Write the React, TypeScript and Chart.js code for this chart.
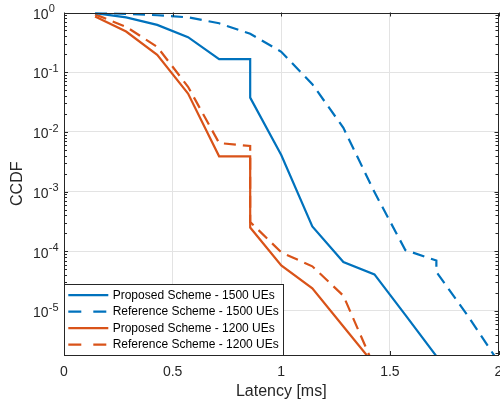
import React, { useEffect, useRef } from 'react';
import { Chart, registerables } from 'chart.js';

Chart.register(...registerables);

// ---------------- data ----------------
const seriesLabels = [
  'Proposed Scheme - 1500 UEs',
  'Reference Scheme - 1500 UEs',
  'Proposed Scheme - 1200 UEs',
  'Reference Scheme - 1200 UEs',
];

const proposed1500X = [0.143, 0.286, 0.429, 0.571, 0.714, 0.857, 0.857, 1.0, 1.143, 1.286, 1.429, 1.571, 1.714];
const proposed1500Y = [0.977, 0.83, 0.62, 0.386, 0.166, 0.166, 0.0375, 0.0041, 2.6e-4, 6.6e-5, 4.1e-5, 8.6e-6, 1.75e-6];

const reference1500X = [0.143, 0.286, 0.429, 0.571, 0.714, 0.857, 1.0, 1.143, 1.286, 1.429, 1.571, 1.714, 1.714, 1.857, 2.0];
const reference1500Y = [1.0, 0.95, 0.9, 0.83, 0.66, 0.44, 0.22, 0.063, 0.0117, 9.8e-4, 1.05e-4, 7e-5, 4.5e-5, 8.5e-6, 1.4e-6];

const proposed1200X = [0.143, 0.286, 0.429, 0.571, 0.714, 0.857, 0.857, 1.0, 1.143, 1.286, 1.429];
const proposed1200Y = [0.86, 0.48, 0.195, 0.044, 0.0039, 0.0039, 2.5e-4, 5.8e-5, 2.4e-5, 5.5e-6, 1.26e-6];

const reference1200X = [0.143, 0.286, 0.429, 0.571, 0.714, 0.857, 0.857, 1.0, 1.143, 1.286, 1.429];
const reference1200Y = [0.93, 0.575, 0.266, 0.057, 0.0065, 0.0058, 3.1e-4, 9.6e-5, 5.6e-5, 1.8e-5, 1.15e-6];

const xTickValues = [0, 0.5, 1, 1.5, 2];
const yDecadeExponents = [0, -1, -2, -3, -4, -5];
const xMin = 0;
const xMax = 2;
const yMin = 1.83e-6;
const yMax = 1;
const xAxisTitle = 'Latency [ms]';
const yAxisTitle = 'CCDF';

// ---------------- styles ----------------
const BLUE = '#0072BD';
const ORANGE = '#D95319';
const AXIS = '#262626';
const GRID = '#e3e3e3';
const FONT = '"Liberation Sans", Arial, Helvetica, sans-serif';
const LINE_W = 2.2;
const DASH = [12, 7];

const toPoints = (xs: number[], ys: number[]) => xs.map((x, i) => ({ x, y: ys[i] }));

const matlabPlugin = {
  id: 'matlabAxes',
  afterDatasetsDraw(chart: any) {
    const { ctx, chartArea } = chart;
    const xs = chart.scales.x;
    const ys = chart.scales.y;
    const { left, right, top, bottom } = chartArea;
    ctx.save();

    // frame
    ctx.strokeStyle = AXIS;
    ctx.lineWidth = 1;
    ctx.strokeRect(Math.round(left) + 0.5, Math.round(top) + 0.5, Math.round(right) - Math.round(left) - 1, Math.round(bottom) - Math.round(top));

    // x ticks (inward, bottom and top)
    ctx.beginPath();
    xTickValues.forEach((v) => {
      const px = Math.round(xs.getPixelForValue(v)) + 0.5;
      ctx.moveTo(px, bottom);
      ctx.lineTo(px, bottom - 4);
      ctx.moveTo(px, top);
      ctx.lineTo(px, top + 4);
    });
    // y ticks major & minor (inward, left and right)
    const minExp = Math.floor(Math.log10(yMin));
    for (let e = minExp; e <= 0; e++) {
      for (let m = 1; m <= 9; m++) {
        const v = m * Math.pow(10, e);
        if (v < yMin || v > yMax) continue;
        const py = Math.round(ys.getPixelForValue(v)) + 0.5;
        const len = m === 1 ? 4 : 3;
        ctx.moveTo(left, py);
        ctx.lineTo(left + len, py);
        ctx.moveTo(right, py);
        ctx.lineTo(right - len, py);
      }
    }
    ctx.stroke();

    // y tick labels 10^e
    ctx.fillStyle = AXIS;
    ctx.textBaseline = 'alphabetic';
    yDecadeExponents.forEach((e) => {
      const py = ys.getPixelForValue(Math.pow(10, e));
      ctx.font = `14px ${FONT}`;
      ctx.textAlign = 'right';
      ctx.fillText('10', 48.5, py + 6.3);
      ctx.font = `11px ${FONT}`;
      ctx.textAlign = 'left';
      ctx.fillText(String(e), 48.8, py - 0.3);
    });

    // legend (south-west, inside axes)
    const datasets = chart.data.datasets;
    ctx.font = `12px ${FONT}`;
    let maxW = 0;
    datasets.forEach((d: any) => {
      maxW = Math.max(maxW, ctx.measureText(d.label).width);
    });
    const rowH = 16.45;
    const boxH = rowH * datasets.length + 5;
    const bx = Math.round(left) + 0.5;
    const by = Math.round(bottom - boxH) + 0.5;
    const textX = left + 48.7;
    const bw = Math.round(textX + maxW + 4 - left);
    const bh = Math.round(bottom) - by + 0.5;
    ctx.fillStyle = '#ffffff';
    ctx.fillRect(bx, by, bw, bh);
    ctx.strokeStyle = AXIS;
    ctx.lineWidth = 1;
    ctx.strokeRect(bx, by, bw, bh);
    datasets.forEach((d: any, i: number) => {
      const cy = by + 10.7 + i * rowH;
      ctx.beginPath();
      ctx.strokeStyle = d.borderColor;
      ctx.lineWidth = d.borderWidth;
      ctx.setLineDash(d.borderDash && d.borderDash.length ? [13, 12] : []);
      ctx.moveTo(left + 4.3, cy);
      ctx.lineTo(left + 44.3, cy);
      ctx.stroke();
      ctx.setLineDash([]);
      ctx.fillStyle = '#000000';
      ctx.textAlign = 'left';
      ctx.textBaseline = 'middle';
      ctx.fillText(d.label, textX, cy + 0.5);
    });
    ctx.restore();
  },
};

export default function App() {
  const canvasRef = useRef<HTMLCanvasElement | null>(null);

  useEffect(() => {
    document.body.style.margin = '0';
    const canvas = canvasRef.current;
    if (!canvas) return;
    const base = { pointRadius: 0, tension: 0, fill: false, borderWidth: LINE_W };
    const chart = new Chart(canvas, {
      type: 'line',
      data: {
        datasets: [
          { ...base, label: seriesLabels[0], data: toPoints(proposed1500X, proposed1500Y), borderColor: BLUE, borderDash: [] },
          { ...base, label: seriesLabels[1], data: toPoints(reference1500X, reference1500Y), borderColor: BLUE, borderDash: DASH },
          { ...base, label: seriesLabels[2], data: toPoints(proposed1200X, proposed1200Y), borderColor: ORANGE, borderDash: [] },
          { ...base, label: seriesLabels[3], data: toPoints(reference1200X, reference1200Y), borderColor: ORANGE, borderDash: DASH },
        ],
      } as any,
      options: {
        animation: false,
        responsive: false,
        maintainAspectRatio: false,
        events: [],
        layout: { padding: { top: 12.5, right: 1.5, left: 0, bottom: 0 } },
        plugins: { legend: { display: false }, tooltip: { enabled: false } },
        scales: {
          x: {
            type: 'linear',
            min: xMin,
            max: xMax,
            afterBuildTicks: (s: any) => {
              s.ticks = xTickValues.map((v) => ({ value: v }));
            },
            afterFit: (s: any) => {
              s.height = 48;
              s.paddingLeft = 0;
              s.paddingRight = 0;
            },
            ticks: {
              font: { family: FONT, size: 14 },
              color: AXIS,
              padding: 9,
              maxRotation: 0,
              autoSkip: false,
              callback: (v: any) => String(v),
            },
            grid: {
              drawTicks: false,
              color: (c: any) => (c.tick && (c.tick.value === xMin || c.tick.value === xMax) ? 'rgba(0,0,0,0)' : GRID),
            },
            border: { display: false },
            title: {
              display: true,
              text: xAxisTitle,
              font: { family: FONT, size: 16 },
              color: AXIS,
              padding: { top: 0, bottom: 2 },
            },
          },
          y: {
            type: 'logarithmic',
            min: yMin,
            max: yMax,
            afterBuildTicks: (s: any) => {
              s.ticks = yDecadeExponents.map((e) => ({ value: Math.pow(10, e) }));
            },
            afterFit: (s: any) => {
              s.width = 64;
              s.paddingTop = 0;
              s.paddingBottom = 0;
            },
            ticks: { display: false },
            grid: {
              drawTicks: false,
              color: (c: any) => (c.tick && c.tick.value >= yMax ? 'rgba(0,0,0,0)' : GRID),
            },
            border: { display: false },
            title: {
              display: true,
              text: yAxisTitle,
              font: { family: FONT, size: 16 },
              color: AXIS,
              padding: { top: 8.4, bottom: 0 },
            },
          },
        },
      } as any,
      plugins: [matlabPlugin],
    });
    return () => chart.destroy();
  }, []);

  return (
    <div style={{ position: 'absolute', left: 0, top: 0, width: 500, height: 403, background: '#fff' }}>
      <canvas ref={canvasRef} width={500} height={403} style={{ display: 'block' }} />
    </div>
  );
}
